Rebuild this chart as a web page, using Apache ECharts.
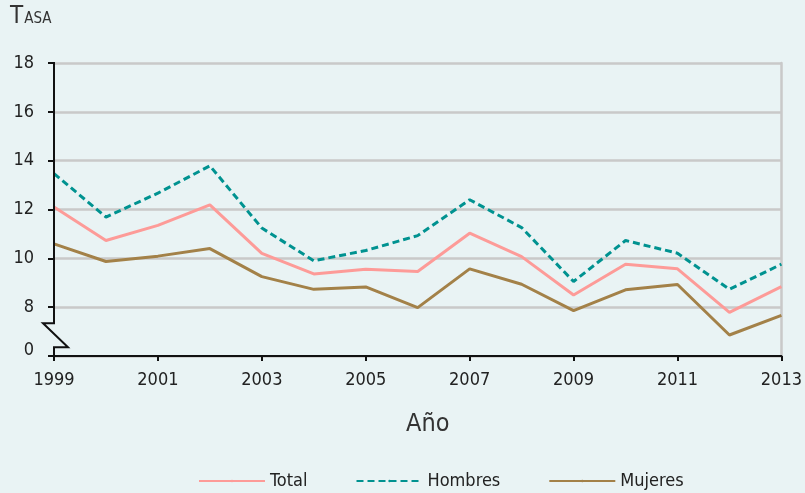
<!DOCTYPE html>
<html>
<head>
<meta charset="utf-8">
<script src="https://cdn.jsdelivr.net/npm/echarts@6/dist/echarts.min.js"></script>
<style>
    html, body { margin: 0; padding: 0; background: #e9f3f4; }
    #chart { width: 805px; height: 493px; }
</style>
</head>
<body>
<div id="chart"></div>
<script>
// tasa por año, 1999-2013
var years = ['1999', '2000', '2001', '2002', '2003', '2004', '2005', '2006',
    '2007', '2008', '2009', '2010', '2011', '2012', '2013'];
var total = [12.1, 10.73, 11.35, 12.19, 10.2, 9.36, 9.55, 9.46,
    11.03, 10.07, 8.5, 9.76, 9.57, 7.79, 8.84];
var hombres = [13.47, 11.69, 12.67, 13.79, 11.24, 9.9, 10.32, 10.93,
    12.4, 11.26, 9.05, 10.73, 10.21, 8.73, 9.76];
var mujeres = [10.59, 9.87, 10.09, 10.4, 9.25, 8.73, 8.83, 7.98,
    9.57, 8.94, 7.86, 8.71, 8.93, 6.86, 7.66];
var seriesNames = ['Total', 'Hombres', 'Mujeres'];
var colors = ['#fd9b98', '#009290', '#a38148'];

// eje y cortado: el valor 6 se dibuja como "0"
var yMin = 6, yMax = 18, yStep = 2;

var font = "'DejaVu Sans Condensed', 'DejaVu Sans', sans-serif";
var textColor = '#222';

function lineSeries(name, data, color, dashed) {
    return {
        name: name,
        type: 'line',
        data: data,
        symbol: 'none',
        color: color,
        lineStyle: {
            color: color,
            width: 3,
            type: dashed ? [7, 4] : 'solid'
        },
        z: 5
    }
}

var option = {
    backgroundColor: '#e9f3f4',
    animation: false,
    title: {
        text: '{a|T}{b|ASA}',
        left: 5,
        top: 0,
        textStyle: {
            fontWeight: 'normal',
            rich: {
                a: { fontFamily: font, fontSize: 24, fontWeight: 'normal', color: '#333' },
                b: { fontFamily: font, fontSize: 15, fontWeight: 'normal', color: '#333', padding: [4, 0, 0, 1] }
            }
        }
    },
    grid: { left: 54, right: 23, top: 63, bottom: 137 },
    legend: {
        top: 467,
        left: 193,
        itemWidth: 66,
        itemHeight: 3,
        itemGap: 48,
        textStyle: { fontFamily: font, fontSize: 18, color: textColor },
        data: seriesNames
    },
    xAxis: {
        type: 'category',
        data: years,
        boundaryGap: false,
        name: 'Año',
        nameLocation: 'middle',
        nameGap: 56,
        nameTextStyle: { fontFamily: font, fontSize: 25, color: '#333', padding: [0, 0, 0, 20] },
        axisLine: { lineStyle: { color: '#111', width: 2 } },
        axisTick: { interval: 1, length: 5, lineStyle: { color: '#111', width: 2 } },
        axisLabel: { interval: 1, margin: 15, fontFamily: font, fontSize: 18, color: textColor },
        splitLine: { show: false }
    },
    yAxis: [{
        type: 'value',
        min: yMin,
        max: yMax,
        interval: yStep,
        axisLine: { show: false },
        axisTick: { show: true, length: 6, lineStyle: { color: '#111', width: 2 } },
        axisLabel: {
            margin: 20,
            fontFamily: font,
            fontSize: 18,
            color: textColor,
            formatter: function (v) { return v === yMin ? '{z|0}' : String(v) },
            rich: {
                z: { fontFamily: font, fontSize: 18, color: textColor, padding: [0, 0, 12, 0] }
            }
        },
        splitLine: { lineStyle: { color: '#c9c9c9', width: 2.5 } }
    }, {
        // borde derecho gris
        type: 'value',
        min: yMin,
        max: yMax,
        interval: yStep,
        position: 'right',
        axisLine: { show: true, lineStyle: { color: '#c9c9c9', width: 2.5 } },
        axisTick: { show: false },
        axisLabel: { show: false },
        splitLine: { show: false }
    }],
    series: [
        lineSeries(seriesNames[0], total, colors[0], false),
        lineSeries(seriesNames[1], hombres, colors[1], true),
        lineSeries(seriesNames[2], mujeres, colors[2], false)
    ]
};

var chart = echarts.init(document.getElementById('chart'));
chart.setOption(option);

// línea del eje y con el símbolo de corte entre 0 y 8
var pTop = chart.convertToPixel({ gridIndex: 0 }, [0, yMax]);
var p8 = chart.convertToPixel({ gridIndex: 0 }, [0, 8]);
var pBot = chart.convertToPixel({ gridIndex: 0 }, [0, yMin]);
var ax = pTop[0];
chart.setOption({
    graphic: [{
        type: 'polyline',
        z: 10,
        shape: {
            points: [
                [ax, pTop[1] - 1],
                [ax, p8[1] + 16],
                [ax - 11, p8[1] + 16],
                [ax + 14, p8[1] + 40],
                [ax, p8[1] + 40],
                [ax, pBot[1]]
            ]
        },
        style: { stroke: '#111', lineWidth: 2, fill: null }
    }]
});
</script>
</body>
</html>
